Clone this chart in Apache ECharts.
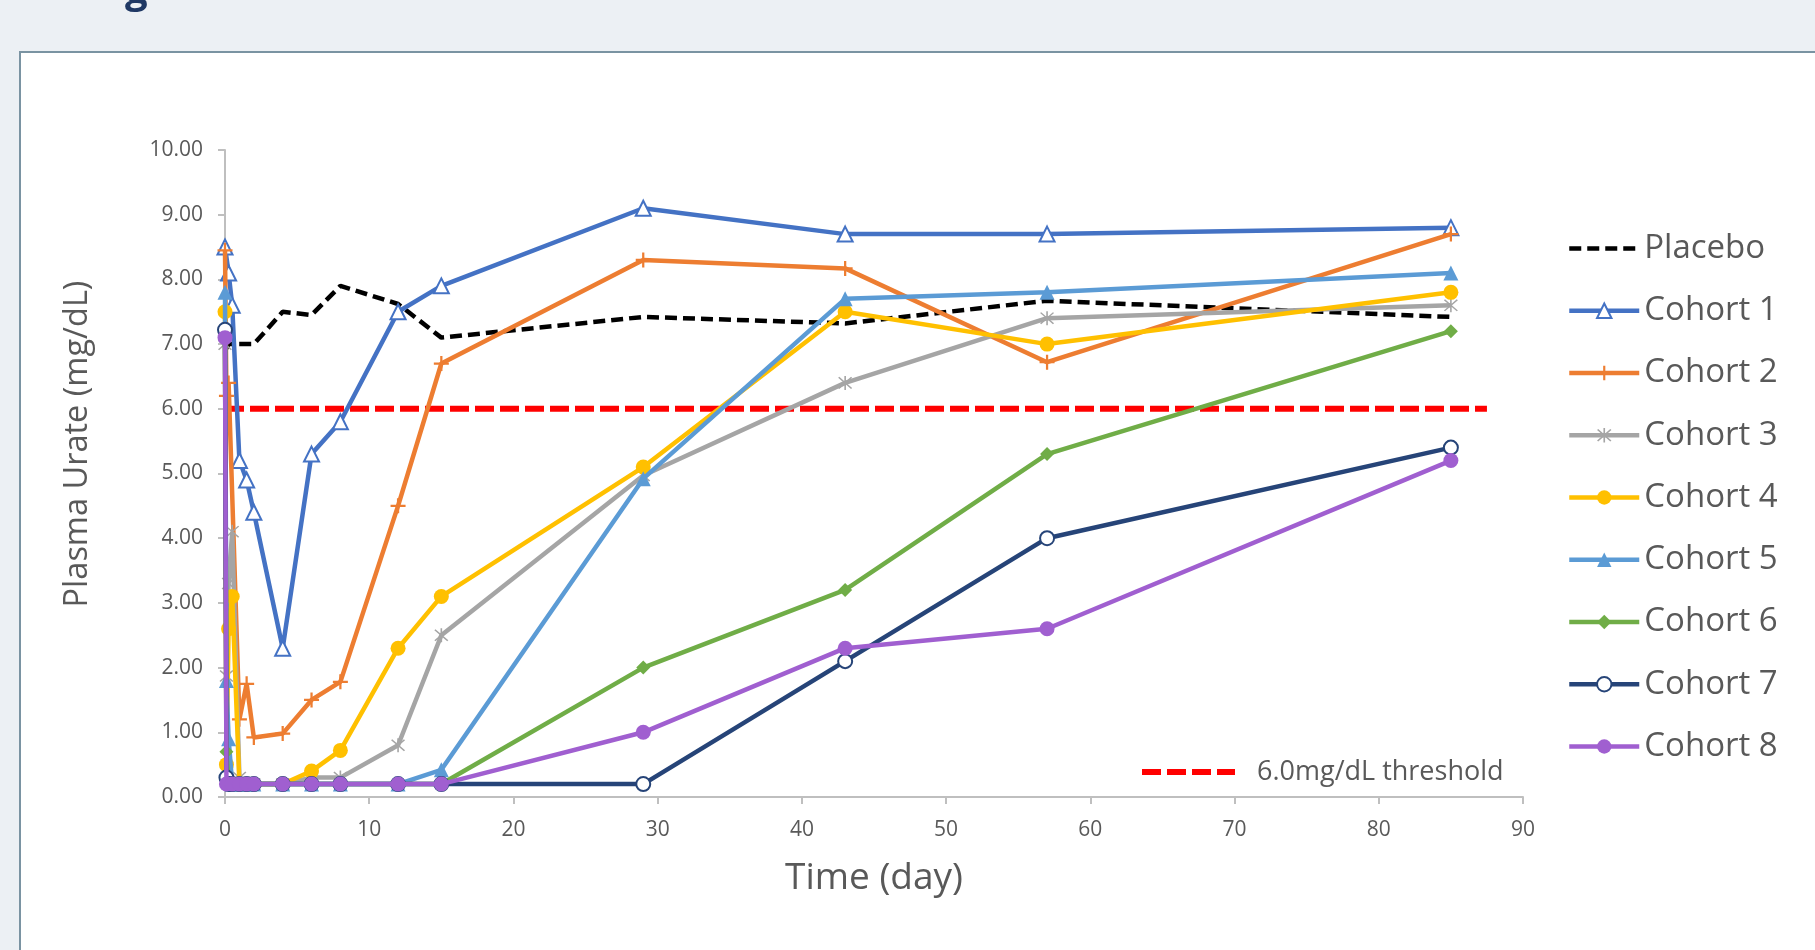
<!DOCTYPE html>
<html>
<head>
<meta charset="utf-8">
<script src="https://cdn.jsdelivr.net/npm/echarts@6/dist/echarts.min.js"></script>
<style>
html,body{margin:0;padding:0;background:#ECF0F4;}
#chart{width:1815px;height:950px;}
</style>
</head>
<body>
<div id="chart"></div>
<script>
// ---- data ----
const days = [0, 0.1, 0.25, 0.5, 1, 1.5, 2, 4, 6, 8, 12, 15, 29, 43, 57, 85];
const placebo = [6.9, null, 7.0, 7.0, 7.0, 7.0, 7.0, 7.5, 7.45, 7.9, 7.62, 7.1, 7.42, 7.32, 7.67, 7.42];
const cohort1 = [8.5, null, 8.1, 7.6, 5.2, 4.9, 4.4, 2.3, 5.3, 5.8, 7.5, 7.9, 9.1, 8.7, 8.7, 8.8];
const cohort2 = [8.45, 6.2, 6.4, null, 1.2, 1.75, 0.92, 0.98, 1.5, 1.78, 4.5, 6.7, 8.3, 8.17, 6.72, 8.7];
const cohort3 = [7.0, 1.87, 3.3, 4.1, 0.3, 0.2, 0.2, 0.2, 0.3, 0.3, 0.8, 2.5, 4.97, 6.4, 7.4, 7.6];
const cohort4 = [7.5, 0.5, 2.6, 3.1, 0.2, 0.2, 0.2, 0.2, 0.4, 0.72, 2.3, 3.1, 5.1, 7.5, 7.0, 7.8];
const cohort5 = [7.8, 1.8, 0.9, 0.2, 0.2, 0.2, 0.2, 0.2, 0.2, 0.2, 0.2, 0.42, 4.92, 7.7, 7.8, 8.1];
const cohort6 = [7.2, 0.7, 0.2, 0.2, 0.2, 0.2, 0.2, 0.2, 0.2, 0.2, 0.2, 0.2, 2.0, 3.2, 5.3, 7.2];
const cohort7 = [7.22, 0.3, 0.2, 0.2, 0.2, 0.2, 0.2, 0.2, 0.2, 0.2, 0.2, 0.2, 0.2, 2.1, 4.0, 5.4];
const cohort8 = [7.1, 0.2, null, 0.2, 0.2, 0.2, 0.2, 0.2, 0.2, 0.2, 0.2, 0.2, 1.0, 2.3, 2.6, 5.2];
const thresholdX = [0, 87.5];
const thresholdValue = 6.0;
const thresholdName = '6.0mg/dL threshold';
const seriesNames = ['Placebo', 'Cohort 1', 'Cohort 2', 'Cohort 3', 'Cohort 4', 'Cohort 5', 'Cohort 6', 'Cohort 7', 'Cohort 8'];
const xTitle = 'Time (day)';
const yTitle = 'Plasma Urate (mg/dL)';

// ---- styling ----
const FONT = "'Open Sans', 'Noto Sans', sans-serif";
const TXT = '#595959';
const plusPath = 'path://M8.5,0 H11.5 V8.5 H20 V11.5 H11.5 V20 H8.5 V11.5 H0 V8.5 H8.5 Z';
const starPath = 'path://M9,0 H11 V20 H9 Z M1.3,2.7 L2.7,1.3 L18.7,17.3 L17.3,18.7 Z M17.3,1.3 L18.7,2.7 L2.7,18.7 L1.3,17.3 Z';

const specs = [
  {vals: placebo, color: '#000000', symbol: 'none', size: 0, dash: [12, 6]},
  {vals: cohort1, color: '#4472C4', symbol: 'emptyTriangle', size: 15},
  {vals: cohort2, color: '#ED7D31', symbol: plusPath, size: 15},
  {vals: cohort3, color: '#A5A5A5', symbol: starPath, size: 14},
  {vals: cohort4, color: '#FFC000', symbol: 'circle', size: 15},
  {vals: cohort5, color: '#5B9BD5', symbol: 'triangle', size: 15},
  {vals: cohort6, color: '#70AD47', symbol: 'diamond', size: 14},
  {vals: cohort7, color: '#264478', symbol: 'emptyCircle', size: 14},
  {vals: cohort8, color: '#A05FD0', symbol: 'circle', size: 15}
];

function pairs(vals) {
  return days.map((d, i) => [d, vals[i]]).filter(p => p[1] !== null);
}

const series = [{
  name: thresholdName,
  type: 'line',
  data: thresholdX.map(x => [x, thresholdValue]),
  symbol: 'none',
  clip: false,
  lineStyle: {color: '#FF0000', width: 6, type: [19, 6]},
  itemStyle: {color: '#FF0000'},
  emphasis: {disabled: true},
  z: 1
}];
specs.forEach((s, i) => {
  series.push({
    name: seriesNames[i],
    type: 'line',
    data: pairs(s.vals),
    symbol: s.symbol,
    symbolSize: s.size,
    showSymbol: s.symbol !== 'none',
    clip: false,
    lineStyle: {color: s.color, width: 4.5, type: s.dash || 'solid'},
    itemStyle: {color: s.color, borderColor: s.color, borderWidth: s.symbol.indexOf('empty') === 0 ? 2 : 0},
    emphasis: {disabled: true},
    z: 2 + i
  });
});

const chart = echarts.init(document.getElementById('chart'), null, {renderer: 'canvas'});
chart.setOption({
  animation: false,
  backgroundColor: 'transparent',
  textStyle: {fontFamily: FONT},
  grid: {left: 225, right: 292, top: 150, bottom: 153, containLabel: false},
  xAxis: {
    type: 'value', min: 0, max: 90, interval: 10,
    axisLine: {show: true, lineStyle: {color: '#BFBFBF', width: 2}},
    axisTick: {show: true, length: 7, lineStyle: {color: '#BFBFBF', width: 2}},
    splitLine: {show: false},
    axisLabel: {color: TXT, fontSize: 21, fontFamily: FONT, margin: 23}
  },
  yAxis: {
    type: 'value', min: 0, max: 10, interval: 1,
    axisLine: {show: true, lineStyle: {color: '#BFBFBF', width: 2}},
    axisTick: {show: true, length: 7, lineStyle: {color: '#BFBFBF', width: 2}},
    splitLine: {show: false},
    axisLabel: {color: TXT, fontSize: 21, fontFamily: FONT, margin: 22, formatter: v => v.toFixed(2)}
  },
  legend: [{
    orient: 'vertical',
    left: 1567, top: 230.5, padding: 0,
    itemWidth: 70, itemHeight: 18, itemGap: 26.25,
    selectedMode: false,
    lineStyle: {width: 4.5},
    textStyle: {color: TXT, fontSize: 33, lineHeight: 36, fontFamily: FONT},
    data: seriesNames.map((n, i) => i === 0 ? {name: n, itemStyle: {opacity: 0}} : n)
  }, {
    orient: 'horizontal',
    left: 1139, top: 754, padding: 0,
    itemWidth: 93, itemHeight: 18,
    selectedMode: false,
    lineStyle: {width: 6},
    textStyle: {color: TXT, fontSize: 27, lineHeight: 36, fontFamily: FONT, padding: [0, 0, 0, 17]},
    data: [{name: thresholdName, itemStyle: {opacity: 0}}]
  }],
  graphic: [
    {type: 'rect', z: -10, silent: true, shape: {x: 20, y: 52, width: 1900, height: 1000},
      style: {fill: '#FFFFFF', stroke: '#7A93A2', lineWidth: 2}},
    {type: 'text', z: -5, silent: true, x: 125, y: 12,
      style: {text: 'g', font: "bold 40px " + FONT, fill: '#1F3864', align: 'left', verticalAlign: 'bottom'}},
    {type: 'text', silent: true, x: 874, y: 878,
      style: {text: xTitle, font: "37px " + FONT, fill: TXT, align: 'center', verticalAlign: 'middle'}},
    {type: 'text', silent: true, x: 78, y: 444, rotation: Math.PI / 2,
      style: {text: yTitle, font: "32.5px " + FONT, fill: TXT, align: 'center', verticalAlign: 'middle'}}
  ],
  series: series
});
</script>
</body>
</html>
